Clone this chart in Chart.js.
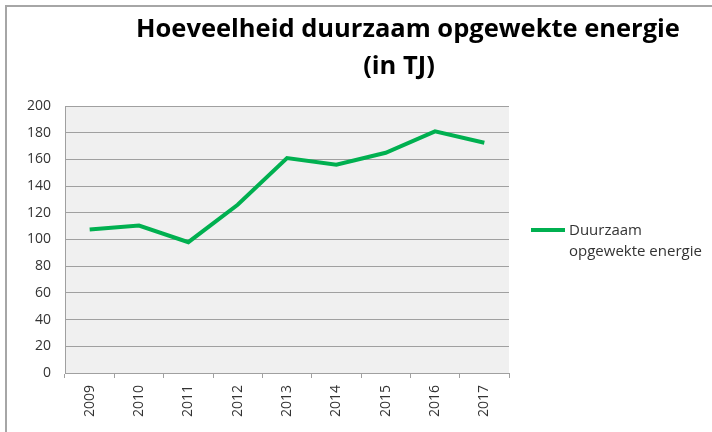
<!DOCTYPE html>
<html>
<head>
<meta charset="utf-8">
<script src="https://cdn.jsdelivr.net/npm/chart.js@4"></script>
<style>
  html, body { margin: 0; padding: 0; background: #fff; }
  #wrap { position: relative; width: 712px; height: 432px; }
  #frame { position: absolute; left: 5px; top: 5px; right: 0; bottom: 0;
           border-top: 2px solid #a6a6a6; border-left: 2px solid #a6a6a6; }
  canvas { position: absolute; left: 0; top: 0; }
</style>
</head>
<body>
<div id="wrap">
  <div id="frame"></div>
  <canvas id="chart" width="712" height="432"></canvas>
</div>
<script>
const years = ['2009', '2010', '2011', '2012', '2013', '2014', '2015', '2016', '2017'];
const energie = [107.5, 110.5, 98, 126, 161, 156, 165, 181, 172.5];
const titleLines = ['Hoeveelheid duurzaam opgewekte energie', '(in TJ)'];
const legendLines = ['Duurzaam', 'opgewekte energie'];

const tickFont = { family: 'Open Sans', size: 14 };
const tickColor = '#333';
const gridColor = '#a0a0a0';
const green = '#00b050';

// grey plot area behind the line
const plotBg = {
  id: 'plotBg',
  beforeDraw(chart) {
    const { ctx, chartArea: a } = chart;
    ctx.save();
    ctx.fillStyle = '#f0f0f0';
    ctx.fillRect(a.left, a.top, a.right - a.left, a.bottom - a.top);
    ctx.restore();
  }
};

// title on top and legend at the right, like the excel sheet
const extras = {
  id: 'extras',
  afterDraw(chart) {
    const ctx = chart.ctx;
    ctx.save();
    ctx.fillStyle = '#000';
    ctx.textAlign = 'center';
    ctx.textBaseline = 'middle';
    ctx.font = 'bold 25.5px "Open Sans"';
    ctx.fillText(titleLines[0], 408, 30);
    ctx.fillText(titleLines[1], 399, 67);

    ctx.strokeStyle = green;
    ctx.lineWidth = 4;
    ctx.beginPath();
    ctx.moveTo(531, 230);
    ctx.lineTo(565, 230);
    ctx.stroke();

    ctx.fillStyle = tickColor;
    ctx.textAlign = 'left';
    ctx.font = '15px "Open Sans"';
    legendLines.forEach((t, i) => ctx.fillText(t, 569, 231 + i * 21));
    ctx.restore();
  }
};

new Chart(document.getElementById('chart'), {
  type: 'line',
  data: {
    labels: years,
    datasets: [{
      label: 'Duurzaam opgewekte energie',
      data: energie,
      borderColor: green,
      borderWidth: 4,
      pointRadius: 0,
      tension: 0,
      fill: false
    }]
  },
  options: {
    responsive: false,
    animation: false,
    layout: { padding: { left: 0, top: 106, right: 203, bottom: 0 } },
    plugins: {
      legend: { display: false },
      title: { display: false },
      tooltip: { enabled: false }
    },
    scales: {
      x: {
        offset: true,
        grid: { offset: true, drawOnChartArea: false, drawTicks: true, tickLength: 5, color: gridColor },
        border: { color: gridColor },
        ticks: { minRotation: 90, maxRotation: 90, padding: 7, font: tickFont, color: tickColor },
        afterFit: s => { s.height = 59; }
      },
      y: {
        min: 0,
        max: 200,
        grid: { color: gridColor, drawTicks: false },
        border: { color: gridColor },
        ticks: { stepSize: 20, padding: 14, font: tickFont, color: tickColor },
        afterFit: s => { s.width = 65; }
      }
    }
  },
  plugins: [plotBg, extras]
});
</script>
</body>
</html>
